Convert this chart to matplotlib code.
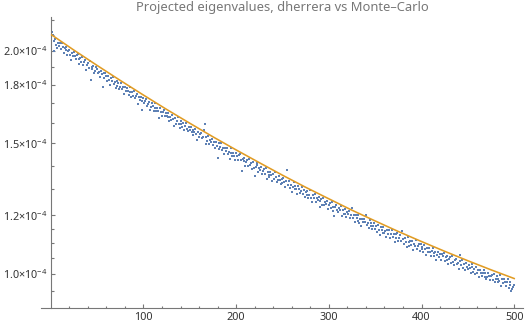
import numpy as np
import matplotlib
matplotlib.use('Agg')
from matplotlib import pyplot as plt
from matplotlib.ticker import FixedLocator, NullFormatter

plt.rcParams['font.family'] = ['Noto Sans', 'DejaVu Sans']
plt.rcParams['mathtext.fontset'] = 'custom'
plt.rcParams['mathtext.rm'] = 'Noto Sans'
plt.rcParams['mathtext.it'] = 'Noto Sans:italic'
plt.rcParams['mathtext.bf'] = 'Noto Sans:bold'

# smooth dherrera curve, values in units of 1e-4
fit_x = [1, 25, 50, 75, 100, 125, 150, 175, 200, 225, 250,
         275, 300, 325, 350, 375, 400, 425, 450, 475, 500]
fit_vals = [2.101, 2.004, 1.911, 1.824, 1.743, 1.667, 1.597, 1.531, 1.470, 1.413, 1.359,
            1.309, 1.263, 1.219, 1.179, 1.141, 1.106, 1.073, 1.042, 1.013, 0.986]

# Monte-Carlo estimates for eigenvalues 1..500, units of 1e-4
mc_vals = [
    2.120, 2.103, 2.061, 1.999, 2.072, 2.036, 2.019, 2.047, 2.031, 2.046,
    2.010, 2.051, 2.021, 1.984, 2.018, 2.002, 2.023, 1.974, 1.996, 2.005,
    1.975, 1.946, 1.986, 1.970, 1.991, 1.969, 1.948, 1.975, 1.983, 1.948,
    1.921, 1.954, 1.931, 1.959, 1.912, 1.932, 1.941, 1.883, 1.915, 1.924,
    1.895, 1.935, 1.827, 1.902, 1.887, 1.908, 1.867, 1.881, 1.903, 1.887,
    1.867, 1.875, 1.843, 1.880, 1.859, 1.786, 1.864, 1.837, 1.868, 1.847,
    1.821, 1.852, 1.825, 1.798, 1.836, 1.820, 1.846, 1.802, 1.816, 1.783,
    1.821, 1.793, 1.808, 1.775, 1.789, 1.810, 1.774, 1.786, 1.750, 1.786,
    1.766, 1.784, 1.765, 1.745, 1.786, 1.760, 1.730, 1.760, 1.740, 1.764,
    1.728, 1.736, 1.749, 1.696, 1.731, 1.717, 1.731, 1.666, 1.713, 1.726,
    1.698, 1.710, 1.723, 1.683, 1.696, 1.704, 1.664, 1.682, 1.700, 1.686,
    1.657, 1.675, 1.698, 1.658, 1.676, 1.657, 1.622, 1.672, 1.653, 1.634,
    1.652, 1.665, 1.631, 1.649, 1.635, 1.628, 1.646, 1.608, 1.630, 1.612,
    1.640, 1.616, 1.584, 1.622, 1.593, 1.610, 1.628, 1.595, 1.572, 1.610,
    1.591, 1.578, 1.597, 1.563, 1.585, 1.598, 1.569, 1.557, 1.580, 1.566,
    1.580, 1.554, 1.565, 1.538, 1.555, 1.571, 1.545, 1.518, 1.554, 1.528,
    1.544, 1.551, 1.525, 1.531, 1.562, 1.593, 1.499, 1.530, 1.513, 1.534,
    1.499, 1.515, 1.507, 1.520, 1.493, 1.505, 1.479, 1.505, 1.488, 1.434,
    1.502, 1.472, 1.484, 1.500, 1.469, 1.480, 1.450, 1.480, 1.464, 1.481,
    1.450, 1.462, 1.431, 1.480, 1.458, 1.442, 1.458, 1.442, 1.425, 1.456,
    1.441, 1.424, 1.445, 1.452, 1.423, 1.375, 1.431, 1.420, 1.435, 1.397,
    1.418, 1.425, 1.399, 1.429, 1.404, 1.411, 1.386, 1.415, 1.391, 1.356,
    1.395, 1.402, 1.413, 1.374, 1.390, 1.381, 1.396, 1.364, 1.378, 1.385,
    1.366, 1.389, 1.344, 1.372, 1.361, 1.350, 1.374, 1.359, 1.336, 1.364,
    1.344, 1.372, 1.352, 1.329, 1.340, 1.355, 1.339, 1.324, 1.344, 1.325,
    1.349, 1.330, 1.312, 1.335, 1.382, 1.318, 1.333, 1.306, 1.320, 1.290,
    1.312, 1.331, 1.300, 1.315, 1.300, 1.282, 1.313, 1.302, 1.284, 1.294,
    1.309, 1.282, 1.297, 1.270, 1.288, 1.279, 1.293, 1.267, 1.278, 1.296,
    1.266, 1.252, 1.278, 1.268, 1.283, 1.249, 1.267, 1.257, 1.271, 1.233,
    1.256, 1.262, 1.240, 1.266, 1.240, 1.250, 1.241, 1.255, 1.225, 1.239,
    1.246, 1.229, 1.250, 1.233, 1.216, 1.199, 1.232, 1.238, 1.220, 1.211,
    1.229, 1.219, 1.236, 1.196, 1.218, 1.205, 1.222, 1.204, 1.192, 1.213,
    1.203, 1.216, 1.189, 1.202, 1.227, 1.191, 1.201, 1.177, 1.202, 1.189,
    1.179, 1.201, 1.173, 1.186, 1.162, 1.186, 1.174, 1.187, 1.175, 1.202,
    1.163, 1.173, 1.153, 1.182, 1.161, 1.170, 1.151, 1.160, 1.170, 1.149,
    1.159, 1.140, 1.163, 1.148, 1.128, 1.156, 1.146, 1.135, 1.158, 1.135,
    1.144, 1.121, 1.145, 1.133, 1.145, 1.119, 1.131, 1.148, 1.121, 1.131,
    1.104, 1.132, 1.119, 1.136, 1.109, 1.119, 1.127, 1.109, 1.142, 1.116,
    1.098, 1.117, 1.105, 1.089, 1.120, 1.105, 1.092, 1.109, 1.093, 1.109,
    1.077, 1.099, 1.091, 1.110, 1.081, 1.091, 1.096, 1.074, 1.096, 1.081,
    1.088, 1.072, 1.095, 1.081, 1.062, 1.084, 1.070, 1.085, 1.070, 1.059,
    1.074, 1.083, 1.058, 1.068, 1.072, 1.044, 1.060, 1.072, 1.054, 1.063,
    1.044, 1.063, 1.056, 1.067, 1.042, 1.055, 1.045, 1.059, 1.032, 1.047,
    1.053, 1.034, 1.056, 1.039, 1.028, 1.043, 1.048, 1.031, 1.036, 1.015,
    1.040, 1.062, 1.028, 1.043, 1.018, 1.030, 1.013, 1.035, 1.023, 1.016,
    1.028, 1.018, 1.004, 1.021, 1.030, 1.006, 1.015, 1.001, 1.022, 1.004,
    1.013, 0.990, 1.014, 1.004, 0.993, 1.004, 1.012, 0.992, 1.004, 0.984,
    0.992, 1.003, 0.993, 0.982, 0.994, 0.996, 0.983, 1.001, 0.975, 0.986,
    0.994, 0.974, 0.985, 0.978, 0.996, 0.964, 0.984, 0.971, 0.986, 0.974,
    0.964, 0.975, 0.984, 0.958, 0.966, 0.974, 0.949, 0.954, 0.959, 0.967,
]

y_major = [1.0, 1.2, 1.5, 1.8, 2.0]
y_minor = [0.95, 1.05, 1.1, 1.15, 1.3, 1.4, 1.6, 1.7, 1.9, 2.1, 2.2]
x_major = [100, 200, 300, 400, 500]
x_minor = [20, 40, 60, 80, 120, 140, 160, 180, 220, 240, 260, 280,
           320, 340, 360, 380, 420, 440, 460, 480]

axis_col = '#777777'
label_col = '#333333'

fig = plt.figure(figsize=(5.25, 3.25), dpi=100)
ax = fig.add_axes([41 / 525, 17.3 / 325, 482 / 525, 290.4 / 325])

idx = np.arange(1, len(mc_vals) + 1)
ax.scatter(idx, np.array(mc_vals) * 1e-4, s=2.8, marker='s', color='#5E81B5',
           linewidths=0, zorder=2)
ax.plot(fit_x, np.array(fit_vals) * 1e-4, color='#E19C24', lw=1.15, zorder=3)

ax.set_yscale('log')
ax.set_xlim(-10.5, 509.5)
ax.set_ylim(0.9006e-4, 2.219e-4)

for side in ('top', 'right'):
    ax.spines[side].set_visible(False)
ax.spines['left'].set_position(('data', 0))
for side in ('left', 'bottom'):
    ax.spines[side].set_color(axis_col)
    ax.spines[side].set_linewidth(0.8)

ax.xaxis.set_major_locator(FixedLocator(x_major))
ax.xaxis.set_minor_locator(FixedLocator(x_minor))
ax.set_xticklabels([str(v) for v in x_major])

ax.yaxis.set_major_locator(FixedLocator([v * 1e-4 for v in y_major]))
ax.yaxis.set_minor_locator(FixedLocator([v * 1e-4 for v in y_minor]))
ax.set_yticklabels([r'$\mathregular{%.1f{\times}10^{-4}}$' % v for v in y_major])
ax.yaxis.set_minor_formatter(NullFormatter())

ax.tick_params(which='both', direction='in', color=axis_col, width=0.8,
               labelcolor=label_col, labelsize=7.8)
ax.tick_params(which='major', length=3.0)
ax.tick_params(which='minor', length=1.8)
ax.tick_params(axis='y', pad=2.5)
ax.tick_params(axis='x', pad=3)

fig.text(282 / 525, 1 - 7.5 / 325, 'Projected eigenvalues, dherrera vs Monte\u2013Carlo',
         ha='center', va='center', color='#777777', fontsize=9.3)

fig.savefig('out.png', dpi=100)
